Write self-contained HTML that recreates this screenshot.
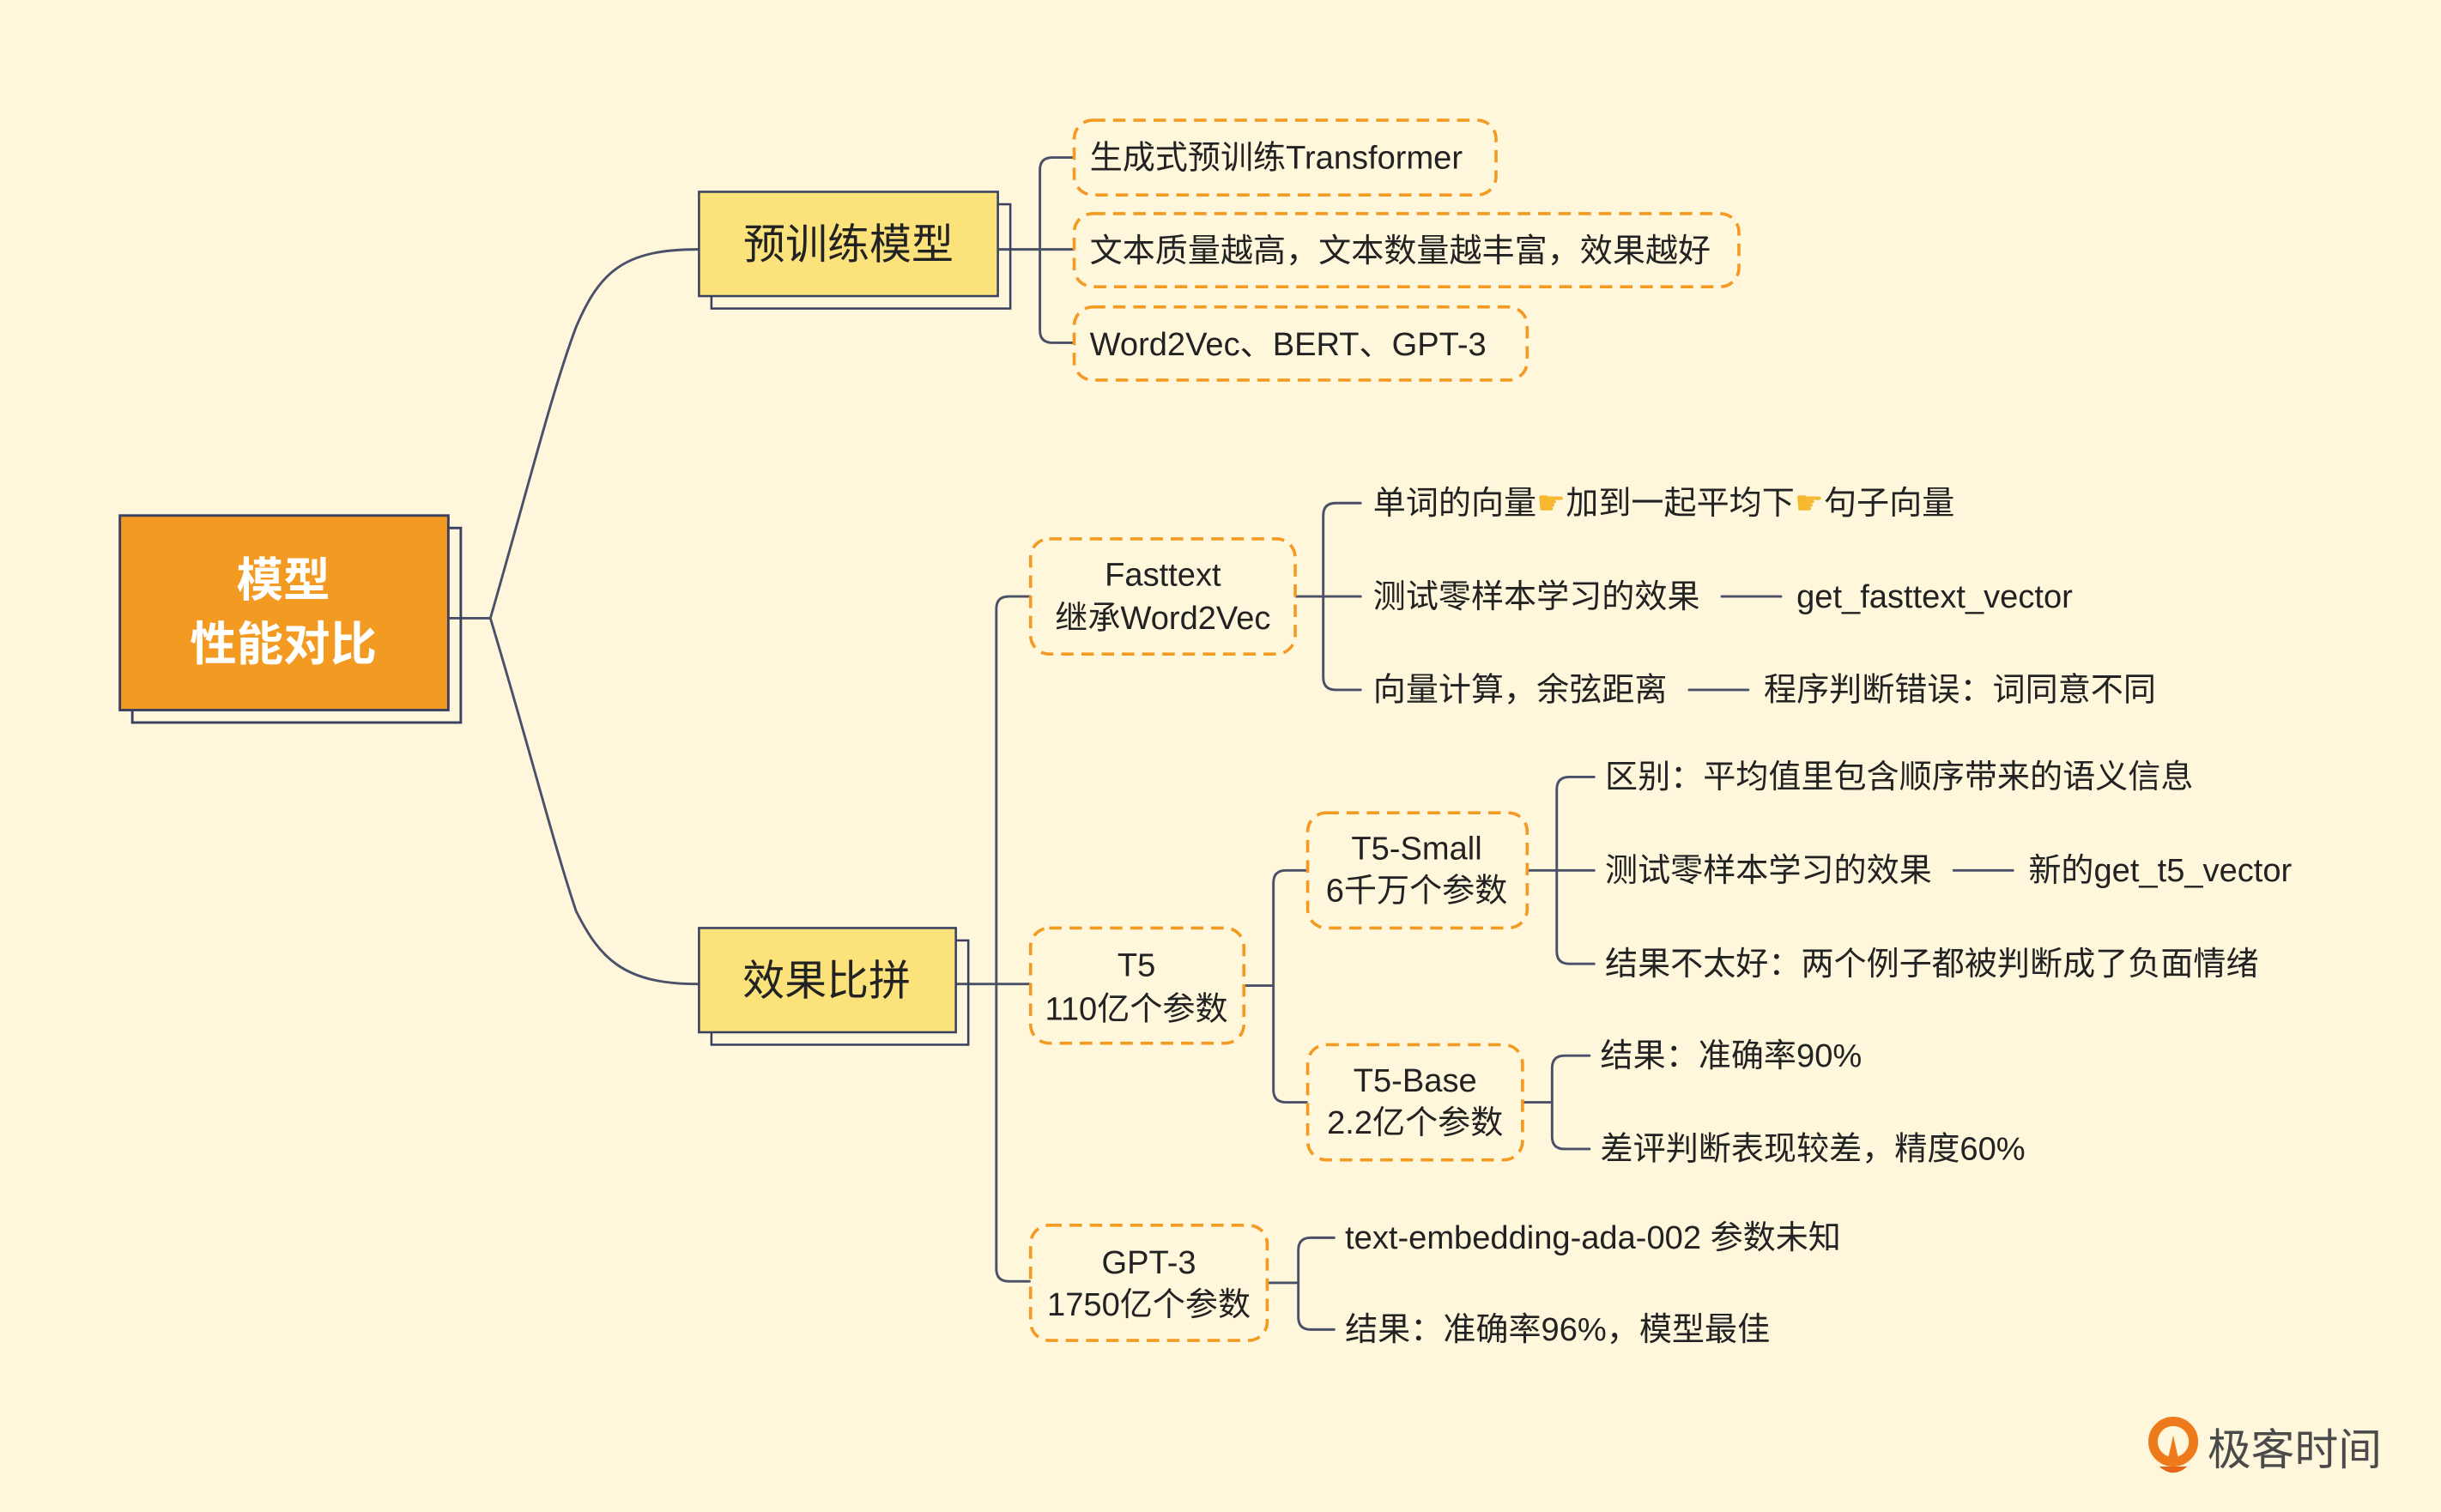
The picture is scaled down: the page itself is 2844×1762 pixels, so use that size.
<!DOCTYPE html>
<html><head><meta charset="utf-8">
<style>
html,body{margin:0;padding:0;background:#fef7dc;}
svg{display:block;}
text{font-family:"Liberation Sans","Noto Sans CJK SC",sans-serif;fill:#222;}
</style></head>
<body>
<svg width="2844" height="1762" viewBox="0 0 1568 971" xmlns="http://www.w3.org/2000/svg">
<rect width="1568" height="971" fill="#fef7dc"/>
<g fill="none" stroke="#4a5068" stroke-width="1.6" stroke-linecap="round">
<path d="M288,397 H315 C340,310 355,250 370,210 C385,175 400,160 448,160"/>
<path d="M315,397 C340,480 355,540 370,585 C385,615 400,632 448,632"/>
<path d="M641,160 H668 M668,160 V109 Q668,101 676,101 H690 M668,160 H690 M668,160 V212 Q668,220 676,220 H690"/>
<path d="M614,632 H640 M640,632 V391 Q640,383 648,383 H662 M640,632 H662 M640,632 V815 Q640,823 648,823 H662"/>
<path d="M832,383 H850 M850,383 V331 Q850,323 858,323 H874 M850,383 H874 M850,383 V435 Q850,443 858,443 H874"/>
<path d="M799,633 H818 M818,633 V567 Q818,559 826,559 H840 M818,633 V700 Q818,708 826,708 H840"/>
<path d="M981,559 H1000 M1000,559 V507 Q1000,499 1008,499 H1024 M1000,559 H1024 M1000,559 V611 Q1000,619 1008,619 H1024"/>
<path d="M978,708 H997 M997,708 V686 Q997,678 1005,678 H1021 M997,708 V730 Q997,738 1005,738 H1021"/>
<path d="M814,824 H834 M834,824 V803 Q834,795 842,795 H857 M834,824 V846 Q834,854 842,854 H857"/>
<path d="M1106,383 H1144 M1085,443 H1123 M1255,559 H1293"/>
</g>

<rect x="85" y="339" width="211" height="125" fill="none" stroke="#3a4060" stroke-width="1.6"/>
<rect x="77" y="331" width="211" height="125" fill="#f39a22" stroke="#3a4060" stroke-width="1.6"/>
<text x="182" y="383" font-size="30" font-weight="bold" text-anchor="middle" style="fill:#fff">模型</text>
<text x="182" y="424" font-size="30" font-weight="bold" text-anchor="middle" style="fill:#fff">性能对比</text>

<rect x="457" y="131" width="192" height="67" fill="none" stroke="#3a4060" stroke-width="1.4"/>
<rect x="449" y="123" width="192" height="67" fill="#fbe27a" stroke="#3a4060" stroke-width="1.4"/>
<text x="545" y="166" font-size="27" text-anchor="middle">预训练模型</text>
<rect x="457" y="604" width="165" height="67" fill="none" stroke="#3a4060" stroke-width="1.4"/>
<rect x="449" y="596" width="165" height="67" fill="#fbe27a" stroke="#3a4060" stroke-width="1.4"/>
<text x="531" y="639" font-size="27" text-anchor="middle">效果比拼</text>

<g fill="#fef7dc" stroke="#f39a22" stroke-width="2" stroke-dasharray="8,5">
<rect x="690" y="77" width="271" height="48" rx="12"/>
<rect x="690" y="137" width="427" height="47" rx="12"/>
<rect x="690" y="197" width="291" height="47" rx="12"/>
<rect x="662" y="346" width="170" height="74" rx="12"/>
<rect x="662" y="596" width="137" height="74" rx="12"/>
<rect x="662" y="787" width="152" height="74" rx="12"/>
<rect x="840" y="522" width="141" height="74" rx="12"/>
<rect x="840" y="671" width="138" height="74" rx="12"/>
</g>
<g font-size="21">
<text x="700" y="108">生成式预训练Transformer</text>
<text x="700" y="168">文本质量越高，文本数量越丰富，效果越好</text>
<text x="700" y="228">Word2Vec、BERT、GPT-3</text>
<g text-anchor="middle">
<text x="747" y="376">Fasttext</text><text x="747" y="404">继承Word2Vec</text>
<text x="730" y="627">T5</text><text x="730" y="655">110亿个参数</text>
<text x="738" y="818">GPT-3</text><text x="738" y="845">1750亿个参数</text>
<text x="910" y="552">T5-Small</text><text x="910" y="579">6千万个参数</text>
<text x="909" y="701">T5-Base</text><text x="909" y="728">2.2亿个参数</text>
</g>
<text x="882" y="330">单词的向量<tspan style="fill:#f5b82e">☛</tspan>加到一起平均下<tspan style="fill:#f5b82e">☛</tspan>句子向量</text>
<text x="882" y="390">测试零样本学习的效果</text><text x="1154" y="390">get_fasttext_vector</text>
<text x="882" y="450">向量计算，余弦距离</text><text x="1133" y="450">程序判断错误：词同意不同</text>
<text x="1031" y="506">区别：平均值里包含顺序带来的语义信息</text>
<text x="1031" y="566">测试零样本学习的效果</text><text x="1303" y="566">新的get_t5_vector</text>
<text x="1031" y="626">结果不太好：两个例子都被判断成了负面情绪</text>
<text x="1028" y="685">结果：准确率90%</text>
<text x="1028" y="745">差评判断表现较差，精度60%</text>
<text x="864" y="802">text-embedding-ada-002 参数未知</text>
<text x="864" y="861">结果：准确率96%，模型最佳</text>
</g>

<circle cx="1396" cy="926" r="13" fill="none" stroke="#ee7a1c" stroke-width="6"/>
<path d="M1392,940 L1396,922 L1400,940 Z" fill="#ee7a1c"/>
<path d="M1387,942 Q1396,950 1405,942 Z" fill="#e8661a"/>
<text x="1418" y="941" font-size="28" style="fill:#4a4a4a">极客时间</text>
</svg>
</body></html>
